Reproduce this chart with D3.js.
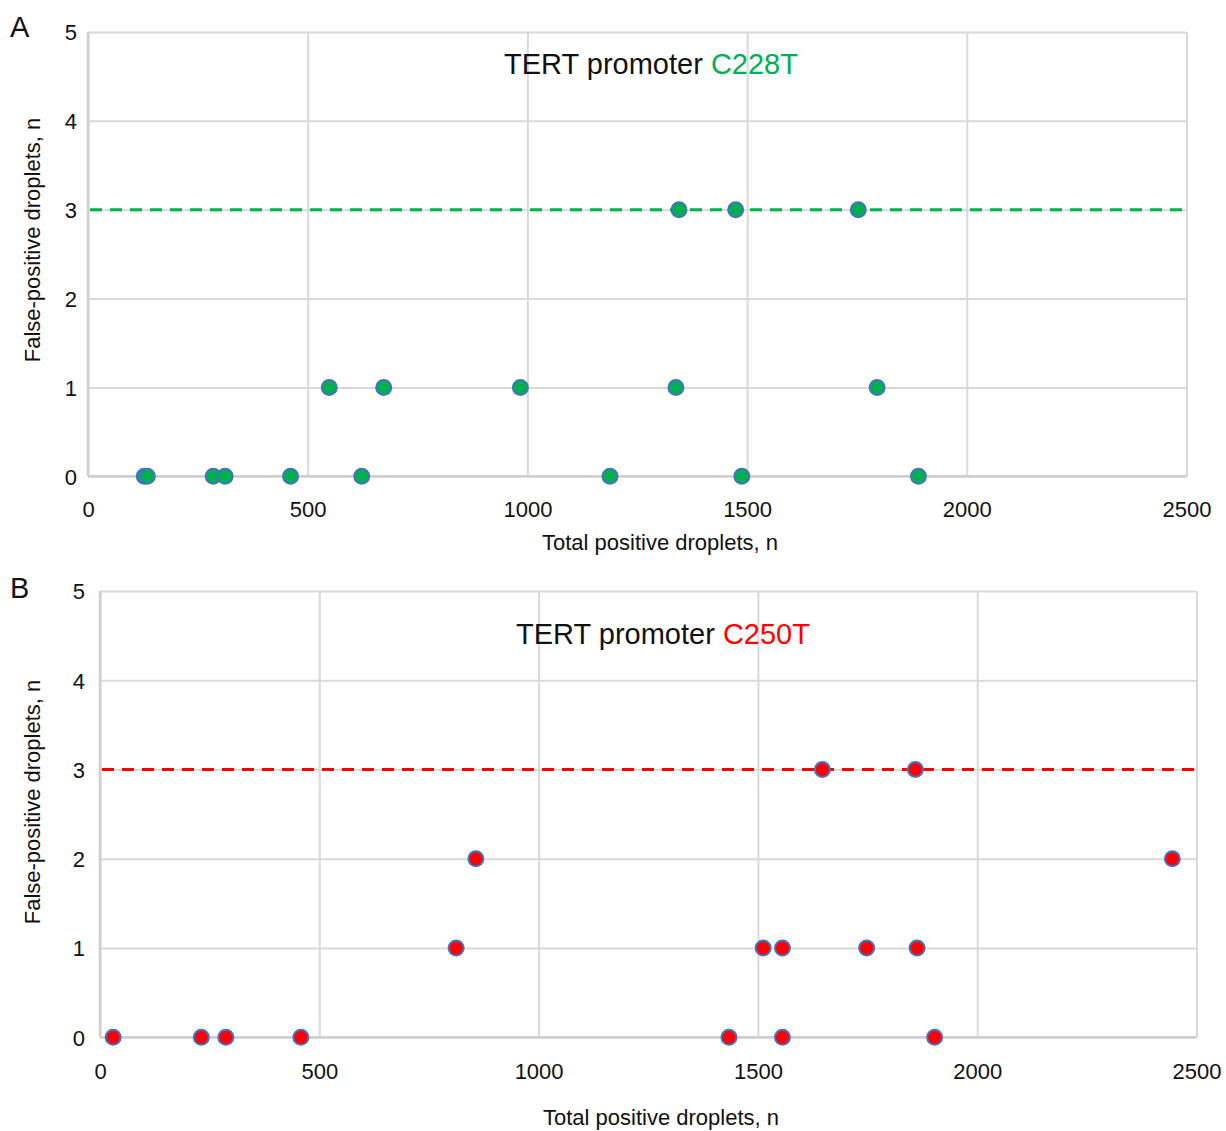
<!DOCTYPE html>
<html>
<head>
<meta charset="utf-8">
<script src="https://cdn.jsdelivr.net/npm/d3@7"></script>
<style>
  html, body { margin: 0; padding: 0; background: #fff; }
  svg { display: block; }
  text { font-family: "Liberation Sans", Arial, Helvetica, sans-serif; fill: #111; }
</style>
</head>
<body>
<svg id="chart" width="1226" height="1131"></svg>
<script>
// ---- data ----
const xTicks = [0, 500, 1000, 1500, 2000, 2500];
const yTicks = [0, 1, 2, 3, 4, 5];
const threshold = 3;

const c228tTotal = [128, 135, 285, 312, 461, 623, 1188, 1488, 1890, 549, 673, 984, 1338, 1796, 1345, 1474, 1753];
const c228tFalse = [0, 0, 0, 0, 0, 0, 0, 0, 0, 1, 1, 1, 1, 1, 3, 3, 3];

const c250tTotal = [30, 231, 287, 458, 1434, 1556, 1903, 812, 1512, 1556, 1748, 1863, 857, 2445, 1647, 1859];
const c250tFalse = [0, 0, 0, 0, 0, 0, 0, 1, 1, 1, 1, 1, 2, 2, 3, 3];

const panelLabels = ["A", "B"];
const titlePrefix = "TERT promoter ";
const mutations = ["C228T", "C250T"];
const xTitle = "Total positive droplets, n";
const yTitle = "False-positive droplets, n";

// ---- layout / styles ----
const panels = [
  { label: panelLabels[0], mut: mutations[0], xs: c228tTotal, ys: c228tFalse, color: "#00b050",
    left: 88, right: 1186.5, top: 32, bottom: 476.3,
    titleX: 651, titleY: 74, labelX: 10, labelY: 37, xTitleX: 660, xTitleY: 550,
    yTitleX: 40, yTitleY: 240, tickLabelY: 517, yLabelX: 77 },
  { label: panelLabels[1], mut: mutations[1], xs: c250tTotal, ys: c250tFalse, color: "#ff0000",
    left: 100, right: 1196.5, top: 591, bottom: 1037.3,
    titleX: 663, titleY: 644, labelX: 10, labelY: 598, xTitleX: 661, xTitleY: 1125,
    yTitleX: 40, yTitleY: 802, tickLabelY: 1079, yLabelX: 85 }
];

const svg = d3.select("#chart");
const gridColor = "#d9d9d9";

panels.forEach(p => {
  const x = d3.scaleLinear().domain([xTicks[0], xTicks[xTicks.length - 1]]).range([p.left, p.right]);
  const y = d3.scaleLinear().domain([yTicks[0], yTicks[yTicks.length - 1]]).range([p.bottom, p.top]);
  const g = svg.append("g");

  // vertical gridlines via axis
  const gx = g.append("g")
    .attr("transform", `translate(0,${p.bottom})`)
    .call(d3.axisBottom(x).tickValues(xTicks).tickSize(-(p.bottom - p.top)).tickFormat(d3.format("d")).tickPadding(0));
  gx.select(".domain").remove();
  gx.selectAll(".tick line").attr("stroke", gridColor).attr("stroke-width", 2);
  gx.selectAll(".tick text")
    .attr("y", p.tickLabelY - p.bottom).attr("dy", 0)
    .style("font-size", "22px").style("fill", "#111");

  // horizontal gridlines via axis
  const gy = g.append("g")
    .attr("transform", `translate(${p.left},0)`)
    .call(d3.axisLeft(y).tickValues(yTicks).tickSize(-(p.right - p.left)).tickFormat(d3.format("d")).tickPadding(0));
  gy.select(".domain").remove();
  gy.selectAll(".tick line").attr("stroke", gridColor).attr("stroke-width", 2);
  gy.selectAll(".tick text")
    .attr("x", p.yLabelX - p.left).attr("dy", "0.36em")
    .attr("text-anchor", "end")
    .style("font-size", "22px").style("fill", "#111");

  // axis lines (slightly darker)
  g.append("line").attr("x1", p.left).attr("x2", p.right).attr("y1", p.bottom).attr("y2", p.bottom)
    .attr("stroke", "#cfcfcf").attr("stroke-width", 2.5);
  g.append("line").attr("x1", p.left).attr("x2", p.left).attr("y1", p.top).attr("y2", p.bottom)
    .attr("stroke", "#cfcfcf").attr("stroke-width", 2.5);

  // threshold dashed line
  g.append("line")
    .attr("x1", x(xTicks[0]) + 2).attr("x2", x(xTicks[xTicks.length - 1]))
    .attr("y1", y(threshold)).attr("y2", y(threshold))
    .attr("stroke", p.color).attr("stroke-width", 3)
    .attr("stroke-dasharray", "12,8");

  // points
  const pts = p.xs.map((v, i) => ({ x: v, y: p.ys[i] }));
  g.append("g").selectAll("circle").data(pts).join("circle")
    .attr("cx", d => x(d.x)).attr("cy", d => y(d.y)).attr("r", 7.5)
    .attr("fill", p.color).attr("stroke", "#4472c4").attr("stroke-width", 2);

  // title
  const t = g.append("text").attr("x", p.titleX).attr("y", p.titleY)
    .attr("text-anchor", "middle").style("font-size", "29px");
  t.append("tspan").text(titlePrefix).style("fill", "#111");
  t.append("tspan").text(p.mut).style("fill", p.color);

  // panel label
  g.append("text").attr("x", p.labelX).attr("y", p.labelY).text(p.label).style("font-size", "29px");

  // axis titles
  g.append("text").attr("x", p.xTitleX).attr("y", p.xTitleY)
    .attr("text-anchor", "middle").style("font-size", "22px").text(xTitle);
  g.append("text")
    .attr("transform", `translate(${p.yTitleX},${p.yTitleY}) rotate(-90)`)
    .attr("text-anchor", "middle").style("font-size", "22px").text(yTitle);
});
</script>
</body>
</html>
